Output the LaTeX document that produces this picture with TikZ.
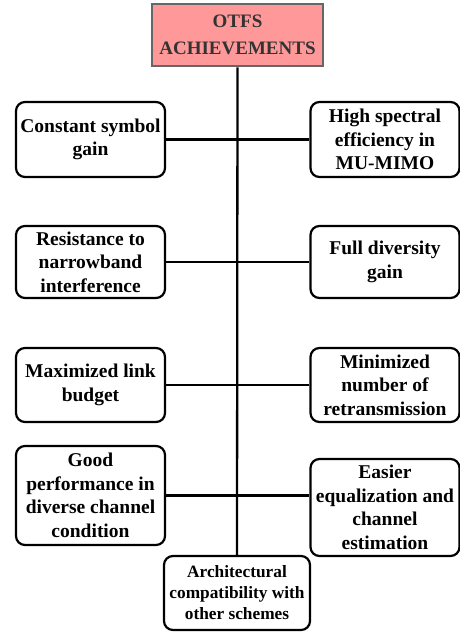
\documentclass[tikz,border=0pt]{standalone}
\usepackage{fontspec}
\setmainfont{Liberation Serif}
\begin{document}
\begin{tikzpicture}[x=1pt,y=-1pt,
  item/.style={draw=black, line width=2.2pt, rounded corners=9pt, fill=white,
    align=center, inner sep=1pt, minimum width=149pt,
    font=\fontsize{19.5}{23.5}\selectfont\bfseries},
  small/.style={item, minimum width=146pt,
    font=\fontsize{17.3}{21}\selectfont\bfseries},
  headbox/.style={draw=black!60, line width=2.6pt, fill={rgb,255:red,255;green,153;blue,153},
    align=center, inner sep=1pt, minimum width=171pt, minimum height=62pt,
    text=black!80, font=\fontsize{19}{27}\selectfont\bfseries},
  link/.style={draw=black, line width=2.3pt}]
\useasboundingbox (0,0) rectangle (460,633);

% title and bottom box
\node[headbox] (top) at (237.5,35) {OTFS\\ACHIEVEMENTS};
\node[small, minimum height=74pt] (bot) at (237,593) {Architectural\\compatibility with\\other schemes};

% left column
\node[item, minimum height=75pt] (l1) at (90.5,139.5) {Constant symbol\\gain};
\node[item, minimum height=72pt] (l2) at (90.5,262) {Resistance to\\narrowband\\interference};
\node[item, minimum height=74pt] (l3) at (90.5,385) {Maximized link\\budget};
\node[item, minimum height=99pt] (l4) at (90.5,495.5) {Good\\performance in\\diverse channel\\condition};

% right column
\node[item, minimum height=75pt] (r1) at (385,139.5) {High spectral\\efficiency in\\MU-MIMO};
\node[item, minimum height=72pt] (r2) at (385,262) {Full diversity\\gain};
\node[item, minimum height=74pt] (r3) at (385,385) {Minimized\\number of\\retransmission};
\node[item, minimum height=97pt] (r4) at (385,507.5) {Easier\\equalization and\\channel\\estimation};

% spine and branches
\draw[link] (top.south) -- (bot.north);
\draw[link] (l1.east) -- (r1.west);
\draw[link] (l2.east) -- (r2.west);
\draw[link] (l3.east) -- (r3.west);
\draw[link] (l4.east) -- (l4.east -| r4.west);
\end{tikzpicture}
\end{document}
